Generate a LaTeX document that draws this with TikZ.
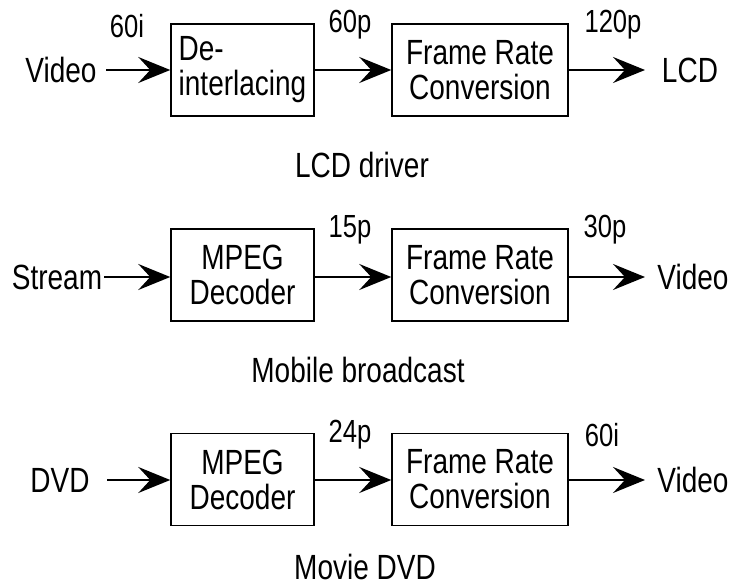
\documentclass[tikz,border=0pt]{standalone}
\usepackage{fontspec}
\setmainfont{Liberation Sans}[FakeStretch=0.8]
\usetikzlibrary{arrows.meta}

\tikzset{
  blk/.style={draw, line width=1.5pt, minimum height=92pt, inner sep=0pt,
              font=\fontsize{35}{35}\selectfont, align=center},
  narrowblk/.style={blk, minimum width=143pt},
  wideblk/.style={blk, minimum width=176pt},
  txt/.style={inner sep=0pt, font=\fontsize{35}{35}\selectfont},
  rate/.style={inner sep=0pt, font=\fontsize{32}{32}\selectfont},
  flow/.style={line width=2.2pt, -{Stealth[length=32pt, width=26pt, inset=12pt]}},
}

\begin{document}
\begin{tikzpicture}[x=1pt, y=-1pt]
  \useasboundingbox (0,0) rectangle (734,588);

  % --- LCD driver chain ---
  \node[txt] (in1) at (61,70) {Video};
  \coordinate (s1) at (106,70);
  \node[narrowblk, align=left] (b11) at (242.5,70) {De-\\interlacing};
  \node[wideblk] (b12) at (480,70) {Frame Rate\\Conversion};
  \coordinate (e1) at (645,70);
  \node[txt] (out1) at (690,70) {LCD};
  \node[rate] (r11) at (127,26) {60i};
  \node[rate] (r12) at (350,25) {60p};
  \node[rate] (r13) at (613,25) {120p};
  \node[txt] (c1) at (362,165) {LCD driver};
  \draw[flow] (s1) -- (b11);
  \draw[flow] (b11) -- (b12);
  \draw[flow] (b12) -- (e1);

  % --- Mobile broadcast chain ---
  \node[txt] (in2) at (57,277) {Stream};
  \coordinate (s2) at (104,277);
  \node[narrowblk] (b21) at (242.5,275) {MPEG\\Decoder};
  \node[wideblk] (b22) at (480,275) {Frame Rate\\Conversion};
  \coordinate (e2) at (645,277);
  \node[txt] (out2) at (693,277) {Video};
  \node[rate] (r22) at (350,230) {15p};
  \node[rate] (r23) at (605,230) {30p};
  \node[txt] (c2) at (358,370) {Mobile broadcast};
  \draw[flow] (s2) -- (b21.west |- s2);
  \draw[flow] (b21.east |- s2) -- (b22.west |- s2);
  \draw[flow] (b22.east |- s2) -- (e2);

  % --- Movie DVD chain ---
  \node[txt] (in3) at (60,480) {DVD};
  \coordinate (s3) at (107,480);
  \node[narrowblk] (b31) at (242.5,479.5) {MPEG\\Decoder};
  \node[wideblk] (b32) at (480,479.5) {Frame Rate\\Conversion};
  \coordinate (e3) at (645,480);
  \node[txt] (out3) at (693,480) {Video};
  \node[rate] (r32) at (350,435) {24p};
  \node[rate] (r33) at (602,435) {60i};
  \node[txt] (c3) at (365,567) {Movie DVD};
  \draw[flow] (s3) -- (b31.west |- s3);
  \draw[flow] (b31.east |- s3) -- (b32.west |- s3);
  \draw[flow] (b32.east |- s3) -- (e3);
\end{tikzpicture}
\end{document}
